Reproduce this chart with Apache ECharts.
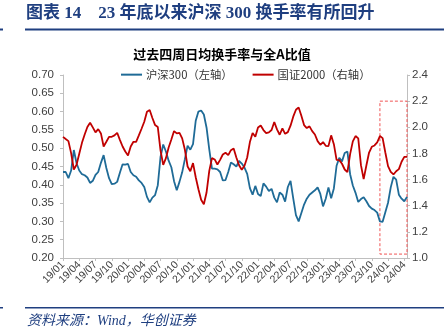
<!DOCTYPE html>
<html>
<head>
<meta charset="utf-8">
<script src="https://cdn.jsdelivr.net/npm/echarts@6/dist/echarts.min.js"></script>
<style>
  html, body { margin: 0; padding: 0; background: #fff; }
  #chart { width: 444px; height: 331px; }
</style>
</head>
<body>
<div id="chart"></div>
<script>
// Semi-monthly observation dates, 2019/01/01 through 2024/04/16 (YY/MM/DD)
const dates = [];
for (let y = 19; y <= 24; y++) {
  for (let m = 1; m <= 12; m++) {
    if (y === 24 && m > 4) break;
    const mm = String(m).padStart(2, '0');
    dates.push(y + '/' + mm + '/01', y + '/' + mm + '/16');
  }
}

// 沪深300: 4-week average daily turnover relative to all-A (left axis)
const hs300 = [
  0.435, 0.435, 0.418, 0.439, 0.495, 0.459, 0.439, 0.429, 0.426, 0.420,
  0.405, 0.411, 0.427, 0.435, 0.460, 0.481, 0.446, 0.418, 0.402, 0.403,
  0.408, 0.433, 0.456, 0.455, 0.457, 0.435, 0.426, 0.422, 0.412, 0.405,
  0.394, 0.367, 0.352, 0.365, 0.372, 0.399, 0.476, 0.510, 0.491, 0.466,
  0.448, 0.410, 0.385, 0.408, 0.434, 0.470, 0.507, 0.496, 0.511, 0.575,
  0.600, 0.603, 0.592, 0.556, 0.497, 0.444, 0.444, 0.442, 0.435, 0.412,
  0.413, 0.435, 0.461, 0.456, 0.450, 0.465, 0.458, 0.447, 0.430, 0.391,
  0.373, 0.397, 0.375, 0.369, 0.404, 0.395, 0.383, 0.389, 0.365, 0.352,
  0.379, 0.373, 0.354, 0.394, 0.411, 0.363, 0.317, 0.300, 0.323, 0.346,
  0.362, 0.373, 0.379, 0.385, 0.393, 0.375, 0.341, 0.362, 0.393, 0.363,
  0.390, 0.452, 0.474, 0.464, 0.487, 0.491, 0.429, 0.398, 0.378, 0.353,
  0.361, 0.366, 0.355, 0.342, 0.335, 0.331, 0.324, 0.300, 0.299, 0.325,
  0.351, 0.393, 0.422, 0.414, 0.373, 0.362, 0.355, 0.367
];

// 国证2000: 4-week average daily turnover relative to all-A (right axis)
const gz2000 = [
  1.927, 1.910, 1.894, 1.802, 1.677, 1.713, 1.797, 1.881, 1.945, 2.002,
  2.035, 1.999, 1.961, 1.986, 1.953, 1.853, 1.889, 1.927, 1.927, 1.938,
  1.958, 1.904, 1.853, 1.815, 1.784, 1.853, 1.889, 1.889, 1.938, 1.989,
  2.042, 2.119, 2.132, 2.071, 2.017, 2.002, 1.823, 1.713, 1.764, 1.846,
  1.907, 1.971, 1.953, 1.958, 1.915, 1.828, 1.700, 1.664, 1.726, 1.618,
  1.526, 1.445, 1.411, 1.501, 1.667, 1.764, 1.754, 1.715, 1.751, 1.792,
  1.805, 1.787, 1.825, 1.838, 1.769, 1.710, 1.675, 1.705, 1.769, 1.887,
  1.956, 1.927, 1.999, 2.014, 1.979, 1.956, 1.961, 1.979, 2.040, 1.984,
  1.943, 1.991, 1.950, 1.963, 2.012, 2.081, 2.134, 2.152, 2.088, 2.017,
  1.994, 2.007, 1.971, 1.945, 1.894, 1.866, 1.887, 1.858, 1.856, 1.938,
  1.871, 1.751, 1.749, 1.721, 1.677, 1.657, 1.795, 1.892, 1.933, 1.915,
  1.710, 1.603, 1.708, 1.807, 1.851, 1.861, 1.884, 1.933, 1.917, 1.807,
  1.703, 1.659, 1.639, 1.664, 1.680, 1.736, 1.774, 1.774
];

// Highlighted window since late 2023 (dashed box on the right axis scale)
const boxRange = { from: '23/11/16', to: '24/04/16', top: 2.2, bottom: 1.03 };

const seriesNames = ['沪深300（左轴）', '国证2000（右轴）'];
const BLUE = '#1f6b97';
const RED = '#c00000';
const NAVY = '#1f3f80';
const AXIS = '#bfbfbf';
const LABEL = '#404040';
const SANS = '"Liberation Sans", Arial, "Noto Sans CJK SC", sans-serif';
const CJK = '"Noto Sans CJK SC", "Liberation Sans", sans-serif';

const chart = echarts.init(document.getElementById('chart'), null, { renderer: 'canvas' });

const quarterStart = (idx) => idx % 6 === 0;

chart.setOption({
  animation: false,
  backgroundColor: '#fff',
  title: {
    text: '过去四周日均换手率与全A比值',
    left: 'center',
    top: 43,
    textStyle: { fontFamily: CJK, fontSize: 13, fontWeight: 'bold', color: '#000' }
  },
  legend: {
    data: seriesNames.map((n) => ({ name: n, icon: 'rect' })),
    left: 116,
    top: 64,
    itemWidth: 21,
    itemHeight: 2,
    itemGap: 20,
    textStyle: { fontFamily: CJK, fontSize: 11.3, color: '#333', padding: [0, 0, 0, -1] }
  },
  grid: { left: 63, right: 37, top: 75, bottom: 73, containLabel: false },
  xAxis: {
    type: 'category',
    data: dates,
    boundaryGap: false,
    axisLine: { lineStyle: { color: AXIS, width: 1 } },
    axisTick: { show: true, interval: quarterStart, length: 3, lineStyle: { color: AXIS } },
    axisLabel: {
      interval: quarterStart,
      rotate: 45,
      margin: 5,
      fontFamily: SANS,
      fontSize: 10.5,
      color: LABEL,
      formatter: (v) => v.slice(0, 5)
    },
    splitLine: { show: false }
  },
  yAxis: [
    {
      type: 'value', min: 0.2, max: 0.7, interval: 0.05,
      axisLine: { show: true, lineStyle: { color: AXIS } },
      axisTick: { show: true, length: 3, lineStyle: { color: AXIS } },
      axisLabel: { fontFamily: SANS, fontSize: 11.5, color: LABEL, margin: 9, formatter: (v) => v.toFixed(2) },
      splitLine: { show: false }
    },
    {
      type: 'value', min: 1.0, max: 2.4, interval: 0.2,
      axisLine: { show: true, lineStyle: { color: AXIS } },
      axisTick: { show: true, length: 3, lineStyle: { color: AXIS } },
      axisLabel: { fontFamily: SANS, fontSize: 11.5, color: LABEL, margin: 5, formatter: (v) => v.toFixed(1) },
      splitLine: { show: false }
    }
  ],
  series: [
    {
      name: seriesNames[0], type: 'line', yAxisIndex: 0, data: hs300,
      showSymbol: false, symbol: 'none',
      lineStyle: { color: BLUE, width: 1.8 }, itemStyle: { color: BLUE }
    },
    {
      name: seriesNames[1], type: 'line', yAxisIndex: 1, data: gz2000,
      showSymbol: false, symbol: 'none',
      lineStyle: { color: RED, width: 1.8 }, itemStyle: { color: RED },
      markArea: {
        silent: true,
        itemStyle: { color: 'rgba(0,0,0,0)', borderColor: '#f05555', borderWidth: 1, borderType: [3, 2] },
        data: [[
          { xAxis: boxRange.from, yAxis: boxRange.top },
          { xAxis: boxRange.to, yAxis: boxRange.bottom }
        ]]
      }
    }
  ],
  graphic: [
    {
      type: 'text', left: 26, top: 5,
      style: {
        text: '图表 14    23 年底以来沪深 300 换手率有所回升',
        font: 'bold 17px "Liberation Serif", "Noto Sans CJK SC", serif',
        fill: NAVY
      }
    },
    { type: 'rect', shape: { x: 25, y: 28.5, width: 419, height: 2 }, style: { fill: NAVY } },
    { type: 'rect', shape: { x: 0, y: 28.5, width: 3, height: 2 }, style: { fill: NAVY } },
    { type: 'rect', shape: { x: 25, y: 307, width: 419, height: 1.5 }, style: { fill: NAVY } },
    { type: 'rect', shape: { x: 0, y: 307, width: 3, height: 1.5 }, style: { fill: NAVY } },
    {
      type: 'text', left: 27, top: 314,
      style: {
        text: '资料来源：Wind，华创证券',
        font: 'italic 14px "Liberation Serif", "Noto Sans CJK SC", serif',
        fill: NAVY
      }
    }
  ]
});
</script>
</body>
</html>
